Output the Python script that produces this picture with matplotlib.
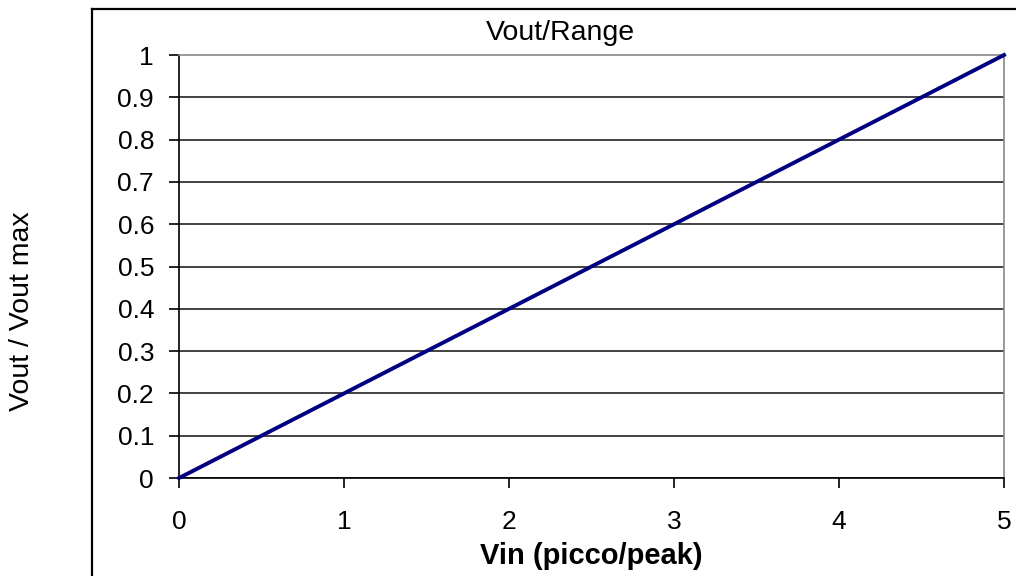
import matplotlib.pyplot as plt
from matplotlib.lines import Line2D

plt.rcParams['font.family'] = ['Liberation Sans', 'DejaVu Sans']

vin = [0, 1, 2, 3, 4, 5]
vout = [0, 0.2, 0.4, 0.6, 0.8, 1.0]
yticks = [0, 0.1, 0.2, 0.3, 0.4, 0.5, 0.6, 0.7, 0.8, 0.9, 1]
ylabels = ['0', '0.1', '0.2', '0.3', '0.4', '0.5', '0.6', '0.7', '0.8', '0.9', '1']

fig = plt.figure(figsize=(10.16, 5.76), dpi=100)
fig.set_facecolor('white')
ax = fig.add_axes([0.1762, 0.1701, 0.9882 - 0.1762, 0.9045 - 0.1701])

# outer chart frame (only left and top visible)
fig.add_artist(Line2D([0.0906, 0.0906], [-0.1, 0.9845], transform=fig.transFigure,
                      color='black', linewidth=1.6))
fig.add_artist(Line2D([0.0906, 1.1], [0.9845, 0.9845], transform=fig.transFigure,
                      color='black', linewidth=1.6))

for y in yticks[:-1]:
    ax.axhline(y, color='#222222', linewidth=1.2, zorder=1)

ax.plot(vin, vout, color='#000080', linewidth=2.8, zorder=3, clip_on=False)

ax.set_xlim(0, 5)
ax.set_ylim(0, 1)
ax.set_yticks(yticks)
ax.set_yticklabels(ylabels)
ax.set_xticks(vin)

for s in ['top', 'right']:
    ax.spines[s].set_color('#888888')
    ax.spines[s].set_linewidth(1.2)
for s in ['left', 'bottom']:
    ax.spines[s].set_color('black')
    ax.spines[s].set_linewidth(1.2)

ax.tick_params(axis='both', direction='out', length=7, width=1.2, labelsize=19)
ax.tick_params(axis='x', pad=16)
ax.tick_params(axis='y', pad=11)

fig.text(560 / 1016, 1 - 40 / 576, 'Vout/Range', fontsize=20.5,
         ha='center', va='baseline')
ax.set_xlabel('Vin (picco/peak)', fontsize=21, fontweight='bold', labelpad=6)
fig.text(0.022, 0.46, 'Vout / Vout max', rotation=90, fontsize=20.5,
         ha='center', va='center')

fig.savefig('out.png', dpi=100, facecolor='white')
